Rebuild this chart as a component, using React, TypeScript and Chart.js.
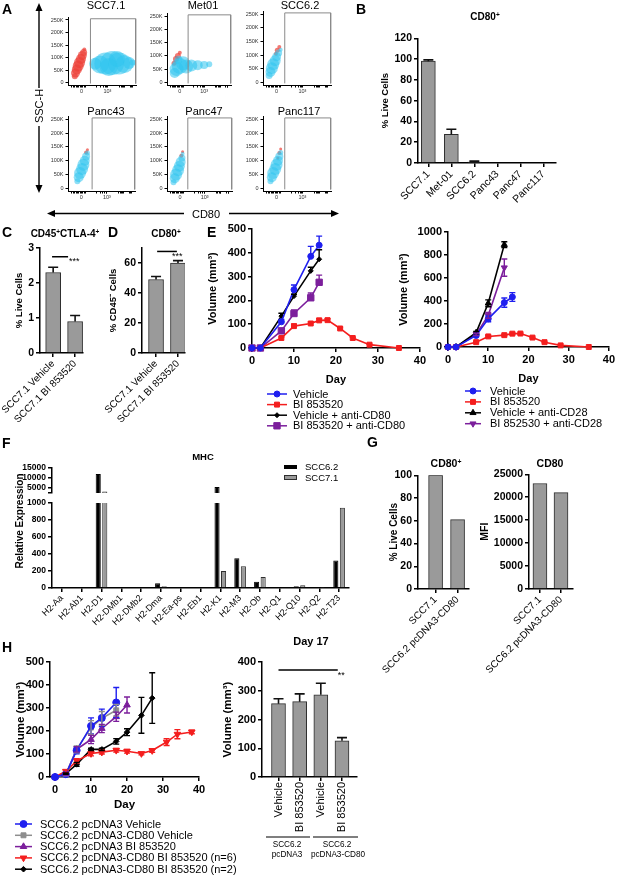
import React, { useEffect, useMemo, useRef } from 'react';
import { Chart, registerables } from 'chart.js';
import { drawPoint } from 'chart.js/helpers';

Chart.register(...registerables);

const FONT = "'Liberation Sans', Arial, Helvetica, sans-serif";
Chart.defaults.font.family = FONT;
Chart.defaults.color = '#000';

// ---------------- Panel A: flow cytometry ----------------
const flowTitles = ['SCC7.1', 'Met01', 'SCC6.2', 'Panc43', 'Panc47', 'Panc117'];
const flowYTicks = [0, 50, 100, 150, 200, 250];
const flowXMajor = [20, 58];
const flowXMajorLabels = ['0', '10³'];
const flowXMinor = [5, 8, 10, 12, 14, 16, 18, 22, 24, 26, 42, 48, 52, 55, 57, 76, 78, 80, 82, 83, 92, 94, 95];
const flowGateX = [33, 33, 32, 36, 32, 32];
const flowGateTop = 255;
const flowGateBottom = -4;
const flowGateRight = 99.5;

const a1Cyan = [
  { x: 40, y: 75, r: 6 }, { x: 47, y: 72, r: 9 }, { x: 55, y: 76, r: 11 }, { x: 65, y: 78, r: 12 },
  { x: 75, y: 76, r: 11 }, { x: 83, y: 74, r: 9 }, { x: 90, y: 78, r: 6 }, { x: 60, y: 62, r: 9 },
  { x: 72, y: 94, r: 8 }, { x: 95, y: 80, r: 3 },
];
const a1Red = [
  { x: 10, y: 25, r: 3 }, { x: 11, y: 38, r: 4.5 }, { x: 13, y: 52, r: 5 }, { x: 15, y: 66, r: 5.5 },
  { x: 17, y: 80, r: 5.5 }, { x: 19, y: 94, r: 5 }, { x: 21, y: 108, r: 4.5 }, { x: 23, y: 120, r: 3.5 },
  { x: 24, y: 132, r: 2 },
];
const a2Cyan = [
  { x: 12, y: 35, r: 5 }, { x: 15, y: 50, r: 7 }, { x: 20, y: 62, r: 8 }, { x: 25, y: 72, r: 7 },
  { x: 30, y: 60, r: 7 }, { x: 38, y: 64, r: 6 }, { x: 48, y: 65, r: 5 }, { x: 58, y: 66, r: 4 },
  { x: 66, y: 68, r: 3 }, { x: 18, y: 85, r: 4 },
];
const a2Red = [{ x: 14, y: 88, r: 3 }, { x: 17, y: 100, r: 3 }, { x: 20, y: 112, r: 2 }, { x: 11, y: 72, r: 2.5 }];
const a3Cyan = [
  { x: 9, y: 25, r: 3.5 }, { x: 11, y: 38, r: 5 }, { x: 13, y: 52, r: 6 }, { x: 15, y: 66, r: 6 },
  { x: 18, y: 80, r: 5.5 }, { x: 20, y: 94, r: 4.5 }, { x: 23, y: 108, r: 3.5 }, { x: 26, y: 120, r: 2 },
];
const a3Red = [{ x: 21, y: 118, r: 2.5 }, { x: 24, y: 130, r: 2 }, { x: 19, y: 105, r: 2 }];
const a4Cyan = [
  { x: 14, y: 25, r: 3 }, { x: 16, y: 40, r: 5 }, { x: 18, y: 55, r: 6 }, { x: 21, y: 70, r: 6 },
  { x: 23, y: 85, r: 6 }, { x: 25, y: 100, r: 5 }, { x: 27, y: 115, r: 4 }, { x: 29, y: 128, r: 2.5 },
];
const a4Red = [{ x: 27, y: 130, r: 2 }, { x: 29, y: 140, r: 1.5 }];
const a5Cyan = [
  { x: 10, y: 22, r: 3 }, { x: 12, y: 36, r: 5 }, { x: 14, y: 50, r: 6 }, { x: 17, y: 65, r: 6 },
  { x: 19, y: 80, r: 5.5 }, { x: 21, y: 95, r: 5 }, { x: 23, y: 110, r: 3.5 }, { x: 24, y: 125, r: 2 },
];
const a5Red = [{ x: 22, y: 118, r: 2 }, { x: 24, y: 132, r: 1.5 }];
const a6Cyan = [
  { x: 11, y: 25, r: 3 }, { x: 13, y: 40, r: 5 }, { x: 15, y: 55, r: 6 }, { x: 18, y: 70, r: 6 },
  { x: 20, y: 85, r: 6 }, { x: 22, y: 100, r: 5 }, { x: 24, y: 115, r: 4 }, { x: 26, y: 130, r: 2.5 },
];
const a6Red = [{ x: 24, y: 128, r: 2 }, { x: 26, y: 142, r: 1.5 }, { x: 22, y: 110, r: 1.5 }];
const flowCyan = [a1Cyan, a2Cyan, a3Cyan, a4Cyan, a5Cyan, a6Cyan];
const flowRed = [a1Red, a2Red, a3Red, a4Red, a5Red, a6Red];

// ---------------- Panel B ----------------
const bCats = ['SCC7.1', 'Met-01', 'SCC6.2', 'Panc43', 'Panc47', 'Panc117'];
const bVals = [98, 27.5, 1, 0, 0, 0];
const bErrs = [1.2, 5, 0.8, 0, 0, 0];
const bYTicks = [0, 20, 40, 60, 80, 100, 120];

// ---------------- Panel C / D ----------------
const cdCats = ['SCC7.1 Vehicle', 'SCC7.1 BI 853520'];
const cVals = [2.3, 0.9];
const cErrs = [0.15, 0.17];
const cYTicks = [0, 1, 2, 3];
const dVals = [49, 60];
const dErrs = [2, 1.6];
const dYTicks = [0, 20, 40, 60];

// ---------------- Panel E ----------------
const eDaysShort = [0, 2, 7, 10, 14, 16];
const eDaysLong = [0, 2, 7, 10, 14, 16, 18, 21, 24, 28, 35];
const eDaysCD28 = [0, 2, 7, 10, 14];
const eVehicle = [0, 0, 110, 245, 385, 432];
const eVehicleErr = [0, 0, 10, 20, 42, 38];
const eBI = [0, 0, 42, 92, 103, 116, 117, 82, 42, 14, 0];
const eBIErr = [0, 0, 4, 8, 6, 8, 6, 4, 3, 2, 0];
const eVehCD80 = [0, 0, 134, 218, 324, 373];
const eVehCD80Err = [0, 0, 12, 8, 15, 40];
const eBICD80 = [0, 0, 72, 145, 211, 276];
const eBICD80Err = [0, 0, 10, 15, 20, 30];
const e2Vehicle = [0, 0, 100, 245, 386, 435];
const e2VehicleErr = [0, 0, 10, 25, 40, 38];
const e2VehCD28 = [0, 0, 125, 380, 890];
const e2VehCD28Err = [0, 0, 10, 30, 25];
const e2BICD28 = [0, 0, 110, 275, 690];
const e2BICD28Err = [0, 0, 10, 25, 75];
const eDayTicks = [0, 10, 20, 30, 40];
const eYTicksL = [0, 100, 200, 300, 400, 500];
const eYTicksR = [0, 200, 400, 600, 800, 1000];

// ---------------- Panel F ----------------
const fGenes = ['H2-Aa', 'H2-Ab1', 'H2-D1', 'H2-DMb1', 'H2-DMb2', 'H2-Dma', 'H2-Ea-ps', 'H2-Eb1', 'H2-K1', 'H2-M3', 'H2-Ob', 'H2-Q1', 'H2-Q10', 'H2-Q2', 'H2-T23'];
const fSCC62 = [0, 0, 12000, 0, 0, 55, 0, 0, 5500, 350, 75, 0, 20, 3, 325];
const fSCC71 = [0, 0, 3300, 0, 0, 20, 0, 0, 200, 255, 130, 0, 32, 5, 945];
const fLowTicks = [0, 200, 400, 600, 800, 1000];
const fHighTicks = [2500, 5000, 10000, 15000];

// ---------------- Panel G ----------------
const gCats = ['SCC7.1', 'SCC6.2 pcDNA3-CD80'];
const gPct = [100, 61];
const gMFI = [23000, 21000];
const gPctTicks = [0, 20, 40, 60, 80, 100];
const gMFITicks = [0, 5000, 10000, 15000, 20000, 25000];

// ---------------- Panel H ----------------
const hDays1 = [0, 3, 6, 10, 13, 17];
const hDays2 = [0, 3, 6, 10, 13, 17, 20];
const hDays3 = [0, 3, 6, 10, 13, 17, 20, 24, 27, 31, 34, 38];
const hDays4 = [0, 3, 6, 10, 13, 17, 20, 24, 27];
const hVehicle = [0, 12, 116, 222, 257, 324];
const hVehicleErr = [0, 5, 15, 35, 38, 65];
const hCD80Veh = [0, 10, 120, 215, 255, 290];
const hCD80VehErr = [0, 5, 15, 30, 30, 25];
const hBI = [0, 12, 120, 163, 211, 262, 313];
const hBIErr = [0, 5, 12, 18, 18, 20, 35];
const hCD80BI6 = [0, 25, 70, 102, 108, 116, 112, 102, 115, 152, 186, 196];
const hCD80BI6Err = [0, 5, 10, 10, 8, 8, 8, 6, 8, 15, 20, 8];
const hCD80BI2 = [0, 15, 55, 120, 120, 155, 195, 268, 343];
const hCD80BI2Err = [0, 3, 8, 5, 5, 12, 15, 78, 110];
const hDayTicks = [0, 10, 20, 30, 40];
const hYTicksL = [0, 100, 200, 300, 400, 500];
const h17Cats = ['Vehicle', 'BI 853520', 'Vehicle', 'BI 853520'];
const h17Vals = [255, 262, 286, 126];
const h17Errs = [17, 27, 40, 11];
const h17Ticks = [0, 100, 200, 300, 400];

// ---------------- colours ----------------
const BLUE = '#1f1fef';
const RED = '#f41e1e';
const PURPLE = '#7c1f9c';
const BLACK = '#000000';
const GRAY = '#8e8e8e';
const BAR = '#9a9a9a';
const BAR_EDGE = '#2e2e2e';

// ---------------- plugins ----------------
const errPlugin = {
  id: 'errbars',
  afterDatasetsDraw(chart: any) {
    const ctx = chart.ctx;
    const ys = chart.scales.y;
    chart.data.datasets.forEach((ds: any, di: number) => {
      if (!ds.errs) return;
      const meta = chart.getDatasetMeta(di);
      ctx.save();
      ctx.strokeStyle = ds.errColor || ds.borderColor;
      ctx.lineWidth = ds.errWidth || 1.5;
      const cap = ds.capW || 3;
      meta.data.forEach((el: any, i: number) => {
        const e = ds.errs[i];
        if (!e) return;
        const v = ds.data[i].y;
        const x = el.x;
        const yt = ys.getPixelForValue(v + e);
        const yb = ys.getPixelForValue(ds.errBoth ? v - e : v);
        ctx.beginPath();
        ctx.moveTo(x, yb);
        ctx.lineTo(x, yt);
        ctx.moveTo(x - cap, yt);
        ctx.lineTo(x + cap, yt);
        if (ds.errBoth) {
          ctx.moveTo(x - cap, yb);
          ctx.lineTo(x + cap, yb);
        }
        ctx.stroke();
      });
      ctx.restore();
    });
  },
};

const sigPlugin = {
  id: 'sig',
  afterDraw(chart: any, _a: any, o: any) {
    if (!o || !o.text) return;
    const ctx = chart.ctx;
    const xs = chart.scales.x;
    const ys = chart.scales.y;
    const y = ys.getPixelForValue(o.y);
    const x0 = xs.getPixelForValue(o.x0);
    const x1 = xs.getPixelForValue(o.x1);
    ctx.save();
    ctx.strokeStyle = '#000';
    ctx.lineWidth = 1.5;
    ctx.beginPath();
    ctx.moveTo(x0, y);
    ctx.lineTo(x1, y);
    ctx.stroke();
    ctx.fillStyle = '#000';
    ctx.font = `${o.size || 9}px ${FONT}`;
    ctx.textAlign = 'left';
    ctx.textBaseline = 'top';
    ctx.fillText(o.text, x1 + (o.dx || 0), y + (o.dy || 0));
    ctx.restore();
  },
};

const lineLegendPlugin = {
  id: 'lineLegend',
  afterDraw(chart: any, _a: any, o: any) {
    if (!o || o.x === undefined) return;
    const ctx = chart.ctx;
    let k = 0;
    chart.data.datasets.forEach((ds: any) => {
      if (!ds.label) return;
      const y = o.y + k * o.dy;
      k++;
      ctx.save();
      ctx.strokeStyle = ds.borderColor;
      ctx.lineWidth = 1.5;
      ctx.beginPath();
      ctx.moveTo(o.x, y);
      ctx.lineTo(o.x + o.len, y);
      ctx.stroke();
      ctx.fillStyle = ds.pointBackgroundColor || ds.borderColor;
      ctx.strokeStyle = ds.borderColor;
      ctx.lineWidth = 1;
      drawPoint(ctx, { pointStyle: ds.pointStyle, radius: ds.pointRadius, rotation: ds.pointRotation || 0, borderWidth: 1 } as any, o.x + o.len / 2, y);
      ctx.fillStyle = '#000';
      ctx.font = `${o.size}px ${FONT}`;
      ctx.textBaseline = 'middle';
      ctx.textAlign = 'left';
      ctx.fillText(ds.label, o.tx, y + 0.5);
      ctx.restore();
    });
  },
};

// ---------------- helpers ----------------
type Area = { x0: number; y0: number; x1: number; y1: number };
type Spec = { rect: { left: number; top: number; width: number; height: number }; make: () => any };

function box(a: Area, l: number, b: number, t: number, r: number, pl = 0, pb = 0) {
  const rect = {
    left: a.x0 - l - pl,
    top: a.y0 - t,
    width: a.x1 - a.x0 + l + pl + r,
    height: a.y1 - a.y0 + t + b + pb,
  };
  return { rect, padding: { left: pl, top: t, right: r, bottom: pb } };
}

const tickFont = (size: number, bold = true) => ({ family: FONT, size, weight: bold ? 'bold' : 'normal' });
const axisBorder = (w = 1.5) => ({ display: true, color: '#000', width: w });
const axisGrid = (len = 4, w = 1.5) => ({
  display: true, drawOnChartArea: false, drawTicks: true, tickLength: len, color: '#000', lineWidth: w, offset: false,
});

const baseOpts = (padding: any) => ({
  animation: false,
  responsive: false,
  maintainAspectRatio: false,
  devicePixelRatio: 1,
  events: [],
  layout: { padding },
});
const basePlugins = { legend: { display: false }, tooltip: { enabled: false }, title: { display: false } };

function yAxis(o: any) {
  return {
    type: 'linear', position: 'left', min: o.min, max: o.max, bounds: 'data',
    afterFit: (s: any) => { s.width = o.width; },
    afterBuildTicks: (s: any) => { s.ticks = o.ticks.map((v: number) => ({ value: v })); },
    ticks: {
      autoSkip: false, color: o.color || '#000', font: tickFont(o.size, o.bold !== false), padding: 2,
      callback: (v: any) => (o.fmt ? o.fmt(v) : String(v)),
    },
    border: axisBorder(o.lw ?? 1.5),
    grid: axisGrid(o.tickLen ?? 4, o.lw ?? 1.5),
    title: o.title
      ? { display: true, text: o.title, color: '#000', font: { family: FONT, size: o.titleSize || 10, weight: 'bold' }, padding: 0 }
      : { display: false },
  };
}

function xCatAxis(o: any) {
  return {
    type: 'linear', position: 'bottom', min: o.min, max: o.max, bounds: 'data', offset: false,
    afterFit: (s: any) => { s.height = o.height; },
    afterBuildTicks: (s: any) => { s.ticks = o.labels.map((_: string, i: number) => ({ value: i })); },
    ticks: {
      autoSkip: false, minRotation: o.rot, maxRotation: o.rot, color: '#000', font: tickFont(o.size, false), padding: 1,
      callback: (v: any) => o.labels[Math.round(v)] ?? '',
    },
    border: axisBorder(),
    grid: axisGrid(),
  };
}

function xNumAxis(o: any) {
  return {
    type: 'linear', position: 'bottom', min: o.min, max: o.max, bounds: 'data',
    afterFit: (s: any) => { s.height = o.height; },
    afterBuildTicks: (s: any) => { s.ticks = o.ticks.map((v: number) => ({ value: v })); },
    ticks: { autoSkip: false, minRotation: 0, maxRotation: 0, color: '#000', font: tickFont(o.size), padding: 2, callback: (v: any) => String(v) },
    border: axisBorder(),
    grid: axisGrid(),
    title: { display: true, text: o.title, color: '#000', font: { family: FONT, size: o.titleSize, weight: 'bold' }, padding: 0 },
  };
}

const pts = (xs: number[], ys: number[]) => xs.map((x, i) => ({ x, y: ys[i] }));

function barDs(vals: number[], errs: number[] | null, thickness: number) {
  return {
    type: 'bar', data: vals.map((v, i) => ({ x: i, y: v })), backgroundColor: BAR, borderColor: BAR_EDGE, borderWidth: 1,
    barThickness: thickness, errs, errColor: '#111', capW: 5, errWidth: 1.6,
  };
}

function simpleBar(o: any): Spec {
  const { rect, padding } = box(o.area, o.l, o.b, o.t, o.r, o.pl || 0, 0);
  const make = () => ({
    type: 'bar',
    data: { datasets: [barDs(o.vals, o.errs || null, o.thickness)] },
    options: {
      ...baseOpts(padding),
      plugins: { ...basePlugins, sig: o.sig || {} },
      scales: {
        x: xCatAxis({ labels: o.labels, min: o.xmin, max: o.xmax, height: o.b, size: o.xsize, rot: o.rot }),
        y: yAxis({ min: o.ymin, max: o.ymax, ticks: o.yticks, width: o.l, size: o.ysize, title: o.ytitle, titleSize: o.ytitleSize }),
      },
    },
    plugins: [errPlugin, sigPlugin],
  });
  return { rect, make };
}

function lineDs(label: string, xs: number[], ys: number[], errs: number[], color: string, style: string, radius: number, rot = 0, both = false) {
  return {
    type: 'line', label, data: pts(xs, ys), borderColor: color, backgroundColor: color, pointBackgroundColor: color,
    pointBorderColor: color, pointStyle: style, pointRadius: radius, pointRotation: rot, pointBorderWidth: 1,
    borderWidth: 1.6, tension: 0, clip: false, fill: false, errs, errBoth: both, capW: 3, errWidth: 1.4,
  };
}

function lineSpec(o: any): Spec {
  const { rect, padding } = box(o.area, o.l, o.b, o.t, o.r, 0, o.pb);
  const lg = o.legend;
  const make = () => ({
    type: 'line',
    data: { datasets: o.datasets() },
    options: {
      ...baseOpts(padding),
      plugins: {
        ...basePlugins,
        lineLegend: { x: lg.x - rect.left, y: lg.y - rect.top, dy: lg.dy, len: lg.len, tx: lg.tx - rect.left, size: lg.size },
      },
      scales: {
        x: xNumAxis({ min: o.xmin, max: o.xmax, ticks: o.xticks, height: o.b, size: o.xsize, title: 'Day', titleSize: o.xtitleSize }),
        y: yAxis({ min: o.ymin, max: o.ymax, ticks: o.yticks, width: o.l, size: o.ysize, title: o.ytitle, titleSize: o.ytitleSize }),
      },
    },
    plugins: [errPlugin, lineLegendPlugin],
  });
  return { rect, make };
}

const flowAreas: Area[] = [
  { x0: 68, y0: 9, x1: 145, y1: 85 },
  { x0: 167, y0: 9, x1: 236, y1: 85 },
  { x0: 263, y0: 9, x1: 334, y1: 85 },
  { x0: 68, y0: 114, x1: 138, y1: 191 },
  { x0: 167, y0: 114, x1: 235, y1: 191 },
  { x0: 263, y0: 114, x1: 334, y1: 191 },
];

function flowSpec(i: number): Spec {
  const { rect, padding } = box(flowAreas[i], 20, 12, 4, 3);
  const g = flowGateX[i];
  const allTicks = [...flowXMinor, ...flowXMajor].sort((a, b) => a - b);
  const make = () => ({
    type: 'bubble',
    data: {
      datasets: [
        {
          type: 'line',
          data: [
            { x: g, y: flowGateBottom }, { x: g, y: flowGateTop },
            { x: flowGateRight, y: flowGateTop }, { x: flowGateRight, y: flowGateBottom },
          ],
          borderColor: '#8a8a8a', borderWidth: 1, pointRadius: 0, fill: false, clip: false, tension: 0,
        },
        { type: 'bubble', data: flowCyan[i], backgroundColor: 'rgba(48,196,238,0.55)', borderWidth: 0 },
        { type: 'bubble', data: flowRed[i], backgroundColor: 'rgba(236,64,56,0.7)', borderWidth: 0 },
      ],
    },
    options: {
      ...baseOpts(padding),
      plugins: { ...basePlugins },
      scales: {
        x: {
          type: 'linear', position: 'bottom', min: 0, max: 100, bounds: 'data',
          afterFit: (s: any) => { s.height = 12; },
          afterBuildTicks: (s: any) => { s.ticks = allTicks.map((v) => ({ value: v })); },
          ticks: {
            autoSkip: false, minRotation: 0, maxRotation: 0, color: '#333', font: { family: FONT, size: 5.5 }, padding: 1,
            callback: (v: any) => {
              const k = flowXMajor.indexOf(v);
              return k >= 0 ? flowXMajorLabels[k] : '';
            },
          },
          border: axisBorder(1),
          grid: axisGrid(2.5, 1),
        },
        y: yAxis({
          min: -10, max: 262, ticks: flowYTicks, width: 20, size: 5.5, bold: false, color: '#333',
          fmt: (v: number) => (v === 0 ? '0' : `${v}K`), tickLen: 2.5, lw: 1,
        }),
      },
    },
  });
  return { rect, make };
}

function fSpec(upper: boolean): Spec {
  const area = upper ? { x0: 52, y0: 468, x1: 349, y1: 493 } : { x0: 52, y0: 503, x1: 349, y1: 588 };
  const { rect, padding } = upper ? box(area, 42, 0, 8, 10, 0, 8) : box(area, 42, 62, 8, 10, 0, 0);
  const ds = (label: string, vals: number[], color: string, edge: string) => ({
    type: 'bar', label, data: vals.map((v, i) => ({ x: i, y: v })), backgroundColor: color, borderColor: edge,
    borderWidth: 1, categoryPercentage: 0.66, barPercentage: 0.78, clip: 0,
  });
  const make = () => ({
    type: 'bar',
    data: { datasets: [ds('SCC6.2', fSCC62, '#000', '#000'), ds('SCC7.1', fSCC71, BAR, BAR_EDGE)] },
    options: {
      ...baseOpts(padding),
      plugins: { ...basePlugins },
      scales: {
        x: upper
          ? { type: 'linear', display: false, min: -0.5, max: 14.5, bounds: 'data', offset: false }
          : xCatAxis({ labels: fGenes, min: -0.5, max: 14.5, height: 62, size: 9, rot: 45 }),
        y: upper
          ? yAxis({ min: 2500, max: 15000, ticks: fHighTicks, width: 42, size: 8.5, fmt: (v: number) => (v === 2500 ? '' : String(v)) })
          : yAxis({ min: 0, max: 1000, ticks: fLowTicks, width: 42, size: 8.5 }),
      },
    },
  });
  return { rect, make };
}

function buildSpecs(): Spec[] {
  const specs: Spec[] = [];
  for (let i = 0; i < 6; i++) specs.push(flowSpec(i));

  // B
  specs.push(simpleBar({
    area: { x0: 418, y0: 38, x1: 556, y1: 163 }, l: 38, b: 45, t: 8, r: 12,
    labels: bCats, vals: bVals, errs: bErrs, xmin: -0.45, xmax: 5.55, thickness: 14, rot: 45, xsize: 10.5,
    ymin: 0, ymax: 120, yticks: bYTicks, ysize: 10.5, ytitle: '% Live Cells', ytitleSize: 9.5,
  }));
  // C
  specs.push(simpleBar({
    area: { x0: 40, y0: 248, x1: 83, y1: 353 }, l: 26, pl: 40, b: 95, t: 14, r: 12,
    labels: cdCats, vals: cVals, errs: cErrs, xmin: -0.6, xmax: 1.36, thickness: 15, rot: 45, xsize: 10,
    ymin: 0, ymax: 3, yticks: cYTicks, ysize: 10.5, ytitle: '% Live Cells', ytitleSize: 9.5,
    sig: { x0: -0.05, x1: 0.68, y: 2.75, text: '***', dx: 1, dy: 0, size: 9 },
  }));
  // D
  specs.push(simpleBar({
    area: { x0: 142, y0: 248, x1: 185, y1: 353 }, l: 34, pl: 40, b: 95, t: 14, r: 12,
    labels: cdCats, vals: dVals, errs: dErrs, xmin: -0.64, xmax: 1.32, thickness: 15, rot: 45, xsize: 10,
    ymin: 0, ymax: 70, yticks: dYTicks, ysize: 10.5, ytitle: '% CD45⁻ Cells', ytitleSize: 9.5,
    sig: { x0: 0.05, x1: 0.95, y: 67.7, text: '***', dx: -5, dy: 1, size: 9 },
  }));
  // E left
  specs.push(lineSpec({
    area: { x0: 252, y0: 229, x1: 420, y1: 348 }, l: 46, b: 39, t: 10, r: 8, pb: 45,
    xmin: 0, xmax: 40, xticks: eDayTicks, xsize: 11, xtitleSize: 11,
    ymin: 0, ymax: 500, yticks: eYTicksL, ysize: 11, ytitle: 'Volume (mm³)', ytitleSize: 11,
    legend: { x: 267, y: 394, dy: 10.6, len: 20, tx: 293, size: 11 },
    datasets: () => [
      lineDs('Vehicle', eDaysShort, eVehicle, eVehicleErr, BLUE, 'circle', 3),
      lineDs('BI 853520', eDaysLong, eBI, eBIErr, RED, 'rect', 3.5),
      lineDs('Vehicle + anti-CD80', eDaysShort, eVehCD80, eVehCD80Err, BLACK, 'rectRot', 2.5),
      lineDs('BI 853520 + anti-CD80', eDaysShort, eBICD80, eBICD80Err, PURPLE, 'rect', 4.5),
    ],
  }));
  // E right
  specs.push(lineSpec({
    area: { x0: 448, y0: 232, x1: 611, y1: 347 }, l: 51, b: 39, t: 10, r: 6, pb: 44,
    xmin: 0, xmax: 40, xticks: eDayTicks, xsize: 11, xtitleSize: 11,
    ymin: 0, ymax: 1000, yticks: eYTicksR, ysize: 11, ytitle: 'Volume (mm³)', ytitleSize: 11,
    legend: { x: 465, y: 391, dy: 10.9, len: 16, tx: 490, size: 11 },
    datasets: () => [
      lineDs('Vehicle', eDaysShort, e2Vehicle, e2VehicleErr, BLUE, 'circle', 3, 0, true),
      lineDs('BI 853520', eDaysLong, eBI, eBIErr, RED, 'rect', 3.5, 0, true),
      lineDs('Vehicle + anti-CD28', eDaysCD28, e2VehCD28, e2VehCD28Err, BLACK, 'triangle', 3.5, 0, true),
      lineDs('BI 852530 + anti-CD28', eDaysCD28, e2BICD28, e2BICD28Err, PURPLE, 'triangle', 3.5, 180, true),
    ],
  }));
  // F
  specs.push(fSpec(true));
  specs.push(fSpec(false));
  // G left
  specs.push(simpleBar({
    area: { x0: 418, y0: 475, x1: 469, y1: 589 }, l: 30, pl: 10, b: 100, t: 8, r: 10,
    labels: gCats, vals: gPct, errs: null, xmin: -0.8, xmax: 1.52, thickness: 14, rot: 45, xsize: 10,
    ymin: 0, ymax: 100, yticks: gPctTicks, ysize: 10.5, ytitle: '% Live Cells', ytitleSize: 10,
  }));
  // G right
  specs.push(simpleBar({
    area: { x0: 529, y0: 474, x1: 573, y1: 589 }, l: 50, pl: 0, b: 100, t: 8, r: 12,
    labels: gCats, vals: gMFI, errs: null, xmin: -0.52, xmax: 1.57, thickness: 14, rot: 45, xsize: 10,
    ymin: 0, ymax: 25000, yticks: gMFITicks, ysize: 10.5, ytitle: 'MFI', ytitleSize: 10.5,
  }));
  // H left
  specs.push(lineSpec({
    area: { x0: 50, y0: 662, x1: 199, y1: 777 }, l: 36, b: 35, t: 10, r: 45, pb: 63,
    xmin: -1.4, xmax: 40, xticks: hDayTicks, xsize: 11, xtitleSize: 11.5,
    ymin: 0, ymax: 500, yticks: hYTicksL, ysize: 11, ytitle: 'Volume (mm³)', ytitleSize: 11.5,
    legend: { x: 15, y: 824, dy: 11.3, len: 17, tx: 40, size: 11 },
    datasets: () => [
      lineDs('SCC6.2 pcDNA3 Vehicle', hDays1, hVehicle, hVehicleErr, BLUE, 'circle', 3.5, 0, true),
      lineDs('SCC6.2 pcDNA3-CD80 Vehicle', hDays1, hCD80Veh, hCD80VehErr, GRAY, 'rect', 3.5, 0, true),
      lineDs('SCC6.2 pcDNA3 BI 853520', hDays2, hBI, hBIErr, PURPLE, 'triangle', 3.8, 0, true),
      lineDs('SCC6.2 pcDNA3-CD80 BI 853520 (n=6)', hDays3, hCD80BI6, hCD80BI6Err, RED, 'triangle', 3.8, 180, true),
      lineDs('SCC6.2 pcDNA3-CD80 BI 853520 (n=2)', hDays4, hCD80BI2, hCD80BI2Err, BLACK, 'rectRot', 2.8, 0, true),
    ],
  }));
  // H right
  specs.push(simpleBar({
    area: { x0: 262, y0: 662, x1: 357, y1: 777 }, l: 41, pl: 0, b: 60, t: 14, r: 12,
    labels: h17Cats, vals: h17Vals, errs: h17Errs, xmin: -0.78, xmax: 3.71, thickness: 14, rot: 90, xsize: 11,
    ymin: 0, ymax: 400, yticks: h17Ticks, ysize: 11, ytitle: 'Volume (mm³)', ytitleSize: 11.5,
    sig: { x0: 0, x1: 2.8, y: 372, text: '**', dx: 0, dy: 1, size: 9 },
  }));
  return specs;
}

// ---------------- HTML text helpers ----------------
function Txt(p: { x: number; y: number; s: number; b?: boolean; rot?: number; left?: boolean; children: any }) {
  const tx = p.left ? '0' : '-50%';
  return (
    <div
      style={{
        position: 'absolute', left: p.x, top: p.y, fontSize: p.s, fontWeight: p.b ? 'bold' : 'normal', lineHeight: 1,
        whiteSpace: 'nowrap', transform: `translate(${tx}, -50%)${p.rot ? ` rotate(${p.rot}deg)` : ''}`, transformOrigin: 'center',
      }}
    >
      {p.children}
    </div>
  );
}
const Sup = ({ c }: { c: string }) => (
  <span style={{ fontSize: '0.65em', position: 'relative', top: '-0.45em' }}>{c}</span>
);

const flowTitlePos = [
  { x: 106, y: 4.5 }, { x: 203, y: 4.5 }, { x: 300, y: 4.5 },
  { x: 106, y: 111 }, { x: 204, y: 111 }, { x: 299, y: 111 },
];

export default function App() {
  const specs = useMemo(buildSpecs, []);
  const refs = useRef<(HTMLCanvasElement | null)[]>([]);
  useEffect(() => {
    const charts = specs.map((s, i) => new Chart(refs.current[i] as HTMLCanvasElement, s.make()));
    return () => charts.forEach((c) => c.destroy());
  }, [specs]);

  return (
    <div
      style={{
        position: 'absolute', left: 0, top: 0, width: 617, height: 875, overflow: 'hidden', background: '#fff',
        fontFamily: FONT, color: '#000',
      }}
    >
      {specs.map((s, i) => (
        <canvas
          key={i}
          ref={(el) => { refs.current[i] = el; }}
          width={s.rect.width}
          height={s.rect.height}
          style={{ position: 'absolute', left: s.rect.left, top: s.rect.top, width: s.rect.width, height: s.rect.height }}
        />
      ))}
      <svg width={617} height={875} style={{ position: 'absolute', left: 0, top: 0, pointerEvents: 'none' }}>
        <line x1={39} y1={9} x2={39} y2={88} stroke="#000" strokeWidth={1.4} />
        <polygon points="39,3 35.5,11 42.5,11" fill="#000" />
        <line x1={39} y1={126} x2={39} y2={187} stroke="#000" strokeWidth={1.4} />
        <polygon points="39,193 35.5,185 42.5,185" fill="#000" />
        <line x1={54} y1={213.5} x2={184} y2={213.5} stroke="#000" strokeWidth={1.4} />
        <polygon points="47,213.5 55,210 55,217" fill="#000" />
        <line x1={229} y1={213.5} x2={333} y2={213.5} stroke="#000" strokeWidth={1.4} />
        <polygon points="339,213.5 331,210 331,217" fill="#000" />
        <rect x={284} y={465} width={13} height={4} fill="#000" />
        <rect x={284.5} y={475.5} width={12} height={4} fill={BAR} stroke={BAR_EDGE} strokeWidth={1} />
        <line x1={266} y1={837} x2={310} y2={837} stroke="#000" strokeWidth={1.2} />
        <line x1={313} y1={837} x2={358} y2={837} stroke="#000" strokeWidth={1.2} />
      </svg>

      {flowTitles.map((t, i) => (
        <Txt key={t} x={flowTitlePos[i].x} y={flowTitlePos[i].y} s={11}>{t}</Txt>
      ))}
      <Txt x={39} y={106} s={11} rot={-90}>SSC-H</Txt>
      <Txt x={206} y={213.5} s={11}>CD80</Txt>

      <Txt x={2} y={8.5} s={14} b left>A</Txt>
      <Txt x={356} y={8.5} s={14} b left>B</Txt>
      <Txt x={2} y={232} s={14} b left>C</Txt>
      <Txt x={108} y={232} s={14} b left>D</Txt>
      <Txt x={207} y={232} s={14} b left>E</Txt>
      <Txt x={2} y={442.5} s={14} b left>F</Txt>
      <Txt x={367} y={442} s={14} b left>G</Txt>
      <Txt x={2} y={647} s={14} b left>H</Txt>

      <Txt x={485} y={16.5} s={10} b>CD80<Sup c="+" /></Txt>
      <Txt x={65} y={233.5} s={10} b>CD45<Sup c="+" />CTLA-4<Sup c="+" /></Txt>
      <Txt x={166} y={233.5} s={10} b>CD80<Sup c="+" /></Txt>
      <Txt x={203} y={456.5} s={9.5} b>MHC</Txt>
      <Txt x={305} y={467} s={9.5} left>SCC6.2</Txt>
      <Txt x={305} y={477.5} s={9.5} left>SCC7.1</Txt>
      <Txt x={20} y={521} s={10} b rot={-90}>Relative Expression</Txt>
      <Txt x={446} y={463} s={10.5} b>CD80<Sup c="+" /></Txt>
      <Txt x={550} y={463} s={10.5} b>CD80</Txt>
      <Txt x={311} y={641} s={11} b>Day 17</Txt>
      <Txt x={287} y={845} s={8.2}>SCC6.2</Txt>
      <Txt x={287} y={855} s={8.2}>pcDNA3</Txt>
      <Txt x={337} y={845} s={8.2}>SCC6.2</Txt>
      <Txt x={338} y={855} s={8.2}>pcDNA3-CD80</Txt>
    </div>
  );
}
